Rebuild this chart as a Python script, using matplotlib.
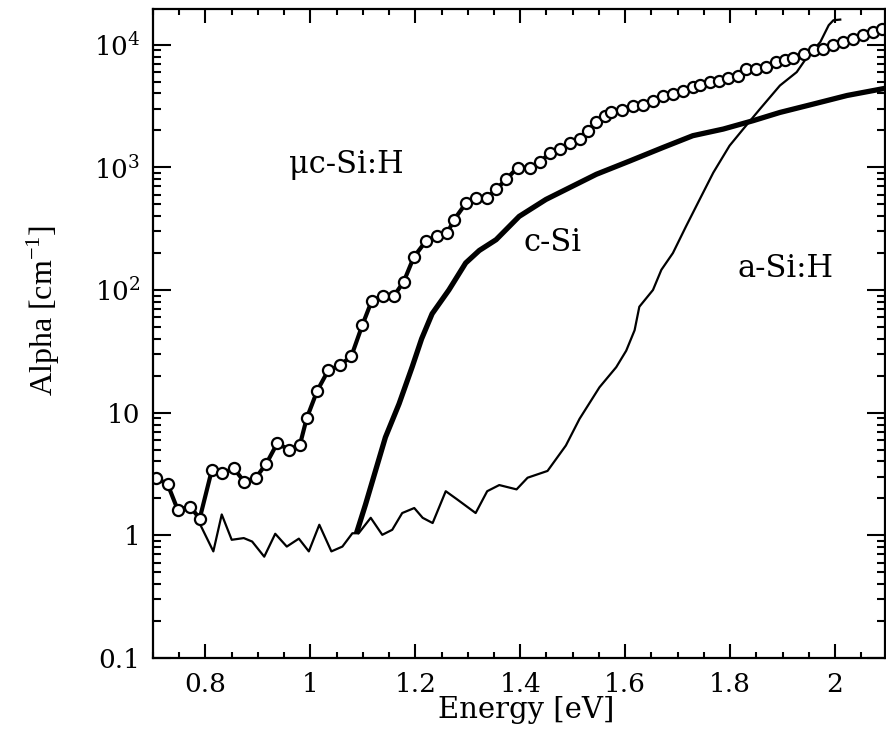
import numpy as np
import matplotlib
matplotlib.use('Agg')
import matplotlib.pyplot as plt
from matplotlib.ticker import MultipleLocator, LogLocator, NullFormatter

# muc-Si:H (open circles)
uc_energy = [0.706, 0.728, 0.747, 0.771, 0.789, 0.812, 0.832, 0.854, 0.874, 0.896,
             0.916, 0.937, 0.959, 0.980, 0.993, 1.013, 1.034, 1.056, 1.078, 1.099,
             1.117, 1.138, 1.159, 1.178, 1.197, 1.221, 1.242, 1.261, 1.274, 1.297,
             1.315, 1.336, 1.354, 1.373, 1.395, 1.418, 1.437, 1.456, 1.475, 1.494,
             1.513, 1.529, 1.545, 1.561, 1.573, 1.594, 1.615, 1.634, 1.653, 1.672,
             1.691, 1.710, 1.729, 1.742, 1.761, 1.779, 1.796, 1.815, 1.831, 1.850,
             1.869, 1.888, 1.904, 1.920, 1.940, 1.959, 1.978, 1.997, 2.016, 2.035,
             2.054, 2.073, 2.089]
uc_alpha = [2.95, 2.6, 1.62, 1.71, 1.37, 3.39, 3.2, 3.52, 2.73, 2.95,
            3.84, 5.65, 4.98, 5.47, 9.0, 15.1, 22.1, 24.3, 28.8, 51.7,
            81.7, 89.2, 89.2, 117, 185, 253, 273, 292, 375, 513,
            563, 563, 660, 796, 995, 995, 1100, 1300, 1400, 1570,
            1700, 1990, 2320, 2630, 2800, 2950, 3140, 3220, 3490, 3800,
            3970, 4220, 4500, 4700, 4940, 5090, 5330, 5600, 6280, 6280,
            6570, 7210, 7530, 7780, 8430, 8980, 9270, 9860, 10500, 11200,
            11900, 12700, 13500]

# c-Si (thick line)
csi_energy = [1.089, 1.105, 1.124, 1.143, 1.169, 1.194, 1.212, 1.232, 1.264, 1.296,
              1.322, 1.354, 1.398, 1.449, 1.500, 1.545, 1.609, 1.672, 1.729, 1.787,
              1.844, 1.895, 1.959, 2.023, 2.095]
csi_alpha = [1.08, 1.78, 3.35, 6.3, 11.8, 23.6, 40, 64, 100, 166,
             210, 257, 398, 547, 703, 877, 1127, 1450, 1810, 2050,
             2400, 2800, 3280, 3850, 4400]

# a-Si:H (thin line)
asi_energy = [0.787, 0.815, 0.831, 0.850, 0.873, 0.889, 0.912, 0.933, 0.955, 0.978,
              0.997, 1.017, 1.040, 1.061, 1.080, 1.092, 1.115, 1.137, 1.156, 1.175,
              1.198, 1.214, 1.233, 1.258, 1.280, 1.315, 1.337, 1.360, 1.393, 1.414,
              1.452, 1.487, 1.513, 1.551, 1.583, 1.602, 1.618, 1.627, 1.653, 1.669,
              1.691, 1.716, 1.742, 1.768, 1.799, 1.825, 1.857, 1.895, 1.927, 1.949,
              1.972, 1.988, 1.997, 2.010]
asi_alpha = [1.3, 0.74, 1.48, 0.92, 0.95, 0.89, 0.67, 1.03, 0.81, 0.94,
             0.74, 1.22, 0.74, 0.81, 1.04, 1.04, 1.39, 1.01, 1.11, 1.52,
             1.67, 1.39, 1.26, 2.29, 1.96, 1.52, 2.29, 2.57, 2.37, 2.95,
             3.35, 5.4, 8.9, 16.1, 23.5, 32, 47, 73, 100, 146,
             200, 330, 547, 905, 1500, 2050, 2990, 4640, 5970, 8170,
             10500, 14400, 15800, 16000]

xtick_vals = [0.8, 1.0, 1.2, 1.4, 1.6, 1.8, 2.0]
xtick_labels = ['0.8', '1', '1.2', '1.4', '1.6', '1.8', '2']
ytick_vals = [0.1, 1, 10, 100, 1000, 10000]
ytick_labels = ['0.1', '1', '10', r'$10^{2}$', r'$10^{3}$', r'$10^{4}$']

# curve names and where they sit (data coords)
names = ['\u03bcc-Si:H', 'c-Si', 'a-Si:H']
name_x = [1.068, 1.461, 1.906]
name_y = [1060, 243, 151]

plt.rcParams['mathtext.fontset'] = 'dejavuserif'
plt.rcParams['font.family'] = 'DejaVu Serif'

fig = plt.figure(figsize=(8.86, 7.47), dpi=100)
ax = fig.add_axes([0.1727, 0.1191, 0.826, 0.8688])

ax.plot(asi_energy, asi_alpha, color='black', lw=1.6)
ax.plot(csi_energy, csi_alpha, color='black', lw=3.8)
ax.plot(uc_energy, uc_alpha, color='black', lw=3, marker='o', markersize=8,
        markerfacecolor='white', markeredgecolor='black', markeredgewidth=1.6)

ax.set_yscale('log')
ax.set_xlim(0.7, 2.095)
ax.set_ylim(0.1, 1.95e4)

ax.set_xticks(xtick_vals)
ax.set_xticklabels(xtick_labels)
ax.xaxis.set_minor_locator(MultipleLocator(0.05))
ax.set_yticks(ytick_vals)
ax.set_yticklabels(ytick_labels)
ax.yaxis.set_minor_locator(LogLocator(base=10, subs=np.arange(2, 10)))
ax.yaxis.set_minor_formatter(NullFormatter())

ax.tick_params(axis='both', which='both', direction='in', top=True, right=True, width=1.5)
ax.tick_params(axis='x', which='major', length=10, pad=10, labelsize=19)
ax.tick_params(axis='x', which='minor', length=4.5)
ax.tick_params(axis='y', which='major', length=13, pad=9, labelsize=19)
ax.tick_params(axis='y', which='minor', length=6)
for sp in ax.spines.values():
    sp.set_linewidth(1.6)

ax.set_xlabel('Energy [eV]', fontsize=21)
ax.xaxis.set_label_coords(0.51, -0.058)
ax.set_ylabel(r'Alpha [cm$^{\mathregular{-1}}$]', fontsize=23, family='Liberation Serif')
ax.yaxis.set_label_coords(-0.125, 0.536)

for name, x, y in zip(names, name_x, name_y):
    ax.text(x, y, name, fontsize=22, ha='center', va='center')

fig.savefig('out.png', dpi=100)
